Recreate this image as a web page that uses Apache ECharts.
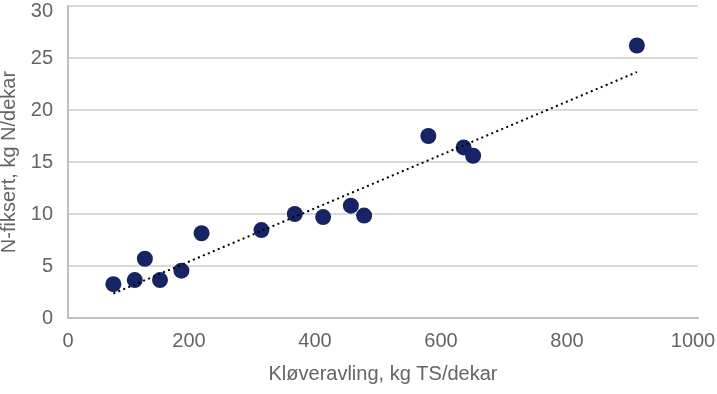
<!DOCTYPE html>
<html>
<head>
<meta charset="utf-8">
<script src="https://cdn.jsdelivr.net/npm/echarts@6/dist/echarts.min.js"></script>
<style>html,body{margin:0;padding:0;background:#fff}#c{width:717px;height:394px}</style>
</head>
<body>
<div id="c"></div>
<script>
const xValues = [72, 106, 122, 146, 180, 212, 307, 360, 405, 449, 470, 572, 628, 643, 903];
const yValues = [3.25, 3.65, 5.7, 3.65, 4.55, 8.15, 8.45, 10.0, 9.7, 10.8, 9.85, 17.5, 16.4, 15.6, 26.2];
const trendX = [72, 903];
const trendY = [2.35, 23.65];
const xTicks = [0, 200, 400, 600, 800, 1000];
const yTicks = [0, 5, 10, 15, 20, 25, 30];

const font = 'Liberation Sans';
const txt = { color: '#646464', fontSize: 20, fontFamily: font };
const chart = echarts.init(document.getElementById('c'));
chart.setOption({
  animation: false,
  grid: { left: 68, right: 19, top: 6, bottom: 76, containLabel: false, outerBoundsMode: 'none' },
  xAxis: {
    type: 'value', min: xTicks[0], max: xTicks[xTicks.length - 1], interval: 200,
    name: 'Kløveravling, kg TS/dekar', nameLocation: 'middle', nameGap: 46,
    nameTextStyle: txt,
    axisLine: { show: true, lineStyle: { color: '#bfbfbf', width: 2 } },
    axisTick: { show: false },
    splitLine: { show: false },
    axisLabel: Object.assign({
      margin: 13,
      formatter: v => v === xTicks[0] ? String(v) : '{s|' + v + '}',
      rich: { s: { padding: [0, 10, 0, 0], color: '#646464', fontSize: 20, fontFamily: font } }
    }, txt)
  },
  yAxis: {
    type: 'value', min: yTicks[0], max: yTicks[yTicks.length - 1], interval: 5,
    name: 'N-fiksert, kg N/dekar', nameLocation: 'middle', nameGap: 45,
    nameTextStyle: txt,
    axisLine: { show: true, lineStyle: { color: '#bfbfbf', width: 2 } },
    axisTick: { show: false },
    splitLine: { show: true, lineStyle: { color: '#d9d9d9', width: 2 } },
    axisLabel: Object.assign({
      margin: 15,
      formatter: v => v === yTicks[yTicks.length - 1] ? '{t|' + v + '}' : String(v),
      rich: { t: { padding: [10, 0, 0, 0], color: '#646464', fontSize: 20, fontFamily: font } }
    }, txt)
  },
  series: [
    {
      type: 'scatter',
      data: xValues.map((x, i) => [x, yValues[i]]),
      symbolSize: 16,
      itemStyle: { color: '#162463', opacity: 1 },
      z: 3
    },
    {
      type: 'line',
      data: trendX.map((x, i) => [x, trendY[i]]),
      showSymbol: false,
      symbol: 'none',
      lineStyle: { color: '#000', width: 2, type: [2, 3.4] },
      z: 4
    }
  ]
});
</script>
</body>
</html>
